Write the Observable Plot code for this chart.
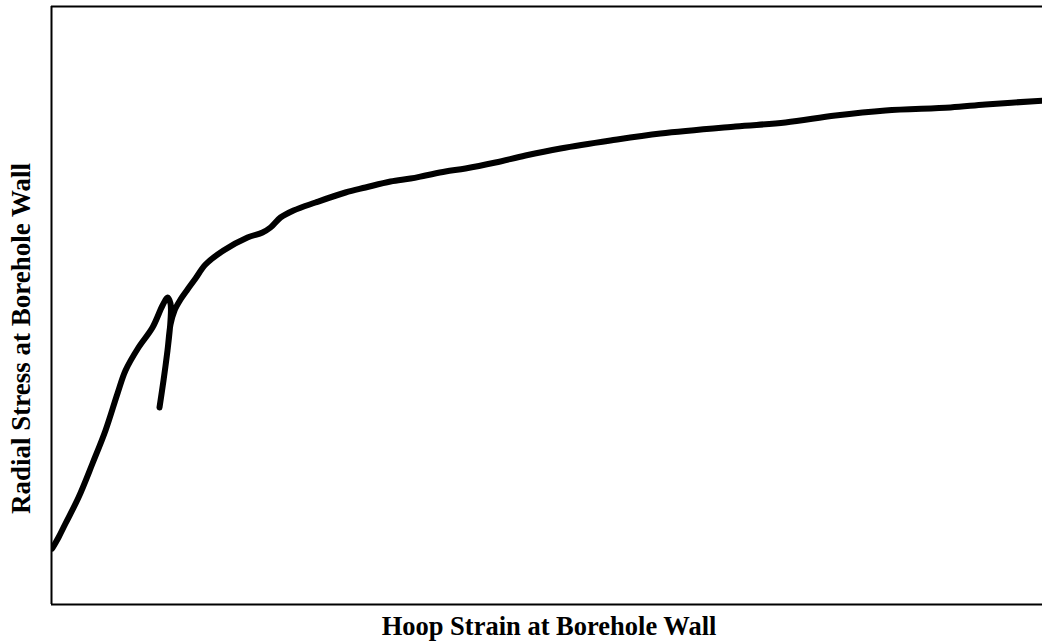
<!DOCTYPE html>
<html>
<head>
<meta charset="utf-8">
<script src="https://cdn.jsdelivr.net/npm/d3@7"></script>
<script src="https://cdn.jsdelivr.net/npm/@observablehq/plot@0.6"></script>
<style>
  html, body { margin: 0; padding: 0; background: #fff; }
</style>
</head>
<body>
<div id="chart"></div>
<script>
// Hoop strain (arbitrary units) and radial stress (arbitrary units), in drawing order
const hoopStrain = [
  0.7, 7, 14, 27, 41, 54, 66, 74, 87, 101, 111, 116, 119,
  119, 116, 112, 108,
  112, 116, 119, 123, 129, 136, 144, 154, 172, 196, 211, 219, 229, 242,
  264, 294, 314, 339, 359, 374, 394, 414, 444, 474, 509, 559, 609,
  684, 734, 784, 834, 899, 934, 993
];
const radialStress = [
  56, 67, 81, 107, 141, 174, 211, 234, 257, 277, 299, 307, 301,
  284, 254, 224, 197,
  224, 254, 280, 294, 305, 315, 326, 340, 354, 367, 372, 377, 387, 394,
  402, 412, 417, 423, 426, 429, 433, 436, 442, 449, 456, 464, 471,
  478, 482, 489, 494, 497, 500, 504
];
const xDomain = [0, 991];
const yDomain = [0, 598];
const xLabel = "Hoop Strain at Borehole Wall";
const yLabel = "Radial Stress at Borehole Wall";

const data = hoopStrain.map((x, i) => ({x, y: radialStress[i]}));

const chart = Plot.plot({
  width: 1042,
  height: 641,
  marginLeft: 51,
  marginRight: 0,
  marginTop: 6,
  marginBottom: 37,
  style: {fontFamily: "'Liberation Serif', 'Times New Roman', serif", background: "#fff"},
  x: {domain: xDomain, axis: null},
  y: {domain: yDomain, axis: null},
  marks: [
    Plot.ruleY(yDomain, {stroke: "#000", strokeWidth: 2}),
    Plot.ruleX([xDomain[0]], {stroke: "#000", strokeWidth: 2}),
    Plot.line(data, {
      x: "x", y: "y",
      stroke: "#000",
      strokeWidth: 6,
      curve: "catmull-rom",
      strokeLinecap: "round",
      strokeLinejoin: "round",
      clip: true
    }),
    Plot.text([xLabel], {
      frameAnchor: "bottom",
      text: d => d,
      lineAnchor: "bottom",
      textAnchor: "middle",
      dy: 30,
      dx: 2,
      fontSize: 26.5,
      fontWeight: "bold",
      fill: "#000"
    }),
    Plot.text([yLabel], {
      frameAnchor: "left",
      text: d => d,
      rotate: -90,
      lineAnchor: "bottom",
      textAnchor: "middle",
      dx: -22,
      dy: 33,
      fontSize: 27,
      fontWeight: "bold",
      fill: "#000"
    })
  ]
});
document.getElementById("chart").appendChild(chart);
</script>
</body>
</html>
